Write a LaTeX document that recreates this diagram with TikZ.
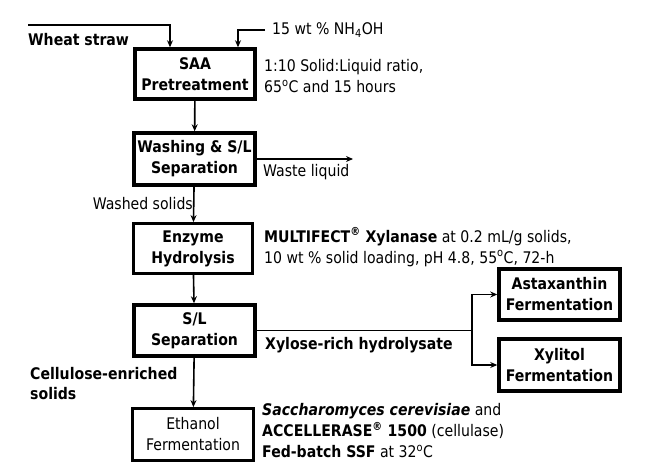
\documentclass[tikz,border=0pt]{standalone}
\usepackage{fontspec}
\setmainfont{DejaVu Sans}[FakeStretch=0.88]
\usetikzlibrary{arrows.meta}
\begin{document}
\begin{tikzpicture}[x=1pt,y=-1pt,
  every node/.append style={font=\fontsize{16}{21}\selectfont},
  box/.style={draw, line width=3.5pt, align=center, inner sep=0pt,
    font=\fontsize{16}{21}\selectfont\bfseries},
  thinbox/.style={box, line width=2.8pt},
  conn/.style={line width=1.6pt, -{Stealth[length=7pt,width=6pt]}},
  plainline/.style={line width=1.6pt},
  txt/.style={align=left, inner sep=0pt, anchor=west},
  btxt/.style={txt, font=\fontsize{16}{20}\selectfont\bfseries}]
\useasboundingbox (0,0) rectangle (649,474);
% boxes
\node[box, minimum width=120, minimum height=50] (saa) at (195,74) {SAA\\Pretreatment};
\node[box, minimum width=121, minimum height=52] (wash) at (194.5,159) {Washing \& S/L\\Separation};
\node[thinbox, minimum width=119, minimum height=50] (enz) at (193,248.5) {Enzyme\\Hydrolysis};
\node[box, minimum width=121, minimum height=51] (sl) at (194.5,330.5) {S/L\\Separation};
\node[thinbox, minimum width=121, minimum height=52, font=\fontsize{16}{21}\selectfont] (eth) at (193,434.5) {Ethanol\\Fermentation};
\node[box, minimum width=121, minimum height=51] (ast) at (559.5,294.5) {Astaxanthin\\Fermentation};
\node[box, minimum width=121, minimum height=52] (xyl) at (559.5,365) {Xylitol\\Fermentation};
% texts
\node[btxt] (wheat) at (28,40) {Wheat straw};
\node[txt] (nhtxt) at (272,30) {15 wt \% NH\textsubscript{4}OH};
\node[txt] (cond) at (264,76) {1:10 Solid:Liquid ratio,\\65\textsuperscript{o}C and 15 hours};
\node[txt] (waste) at (263,172) {Waste liquid};
\node[anchor=east, inner sep=0pt] (washed) at (193,204) {Washed solids};
\node[txt] (enzc) at (264,247) {\textbf{MULTIFECT\textsuperscript{®} Xylanase} at 0.2 mL/g solids,\\10 wt \% solid loading, pH 4.8, 55\textsuperscript{o}C, 72-h};
\node[btxt] (xylh) at (265,345) {Xylose-rich hydrolysate};
\node[btxt] (cell) at (30,384) {Cellulose-enriched\\solids};
\node[txt] (ethc) at (262,431) {\textbf{\itshape Saccharomyces cerevisiae} and\\\textbf{ACCELLERASE\textsuperscript{®} 1500} (cellulase)\\\textbf{Fed-batch SSF} at 32\textsuperscript{o}C};
% connectors
\coordinate (ws) at (28,25);
\coordinate (wsin) at (170,25);
\draw[conn] (ws) -- (wsin) -- (saa.north -| wsin);
\coordinate (nh) at (265,30);
\coordinate (nhx) at (238,30);
\draw[conn] (nh) -- (nhx) -- (saa.north -| nhx);
\draw[conn] (saa) -- (wash);
\coordinate (wl) at (353,159);
\draw[conn] (wash.east) -- (wl);
\draw[conn] (wash) -- (enz);
\draw[conn] (enz) -- (sl);
\draw[conn] (sl) -- (eth);
\coordinate (sp) at (472,330.5);
\draw[plainline] (sl.east) -- (sp);
\draw[conn] (sp) |- (ast.west);
\draw[conn] (sp) |- (xyl.west);
\end{tikzpicture}
\end{document}
